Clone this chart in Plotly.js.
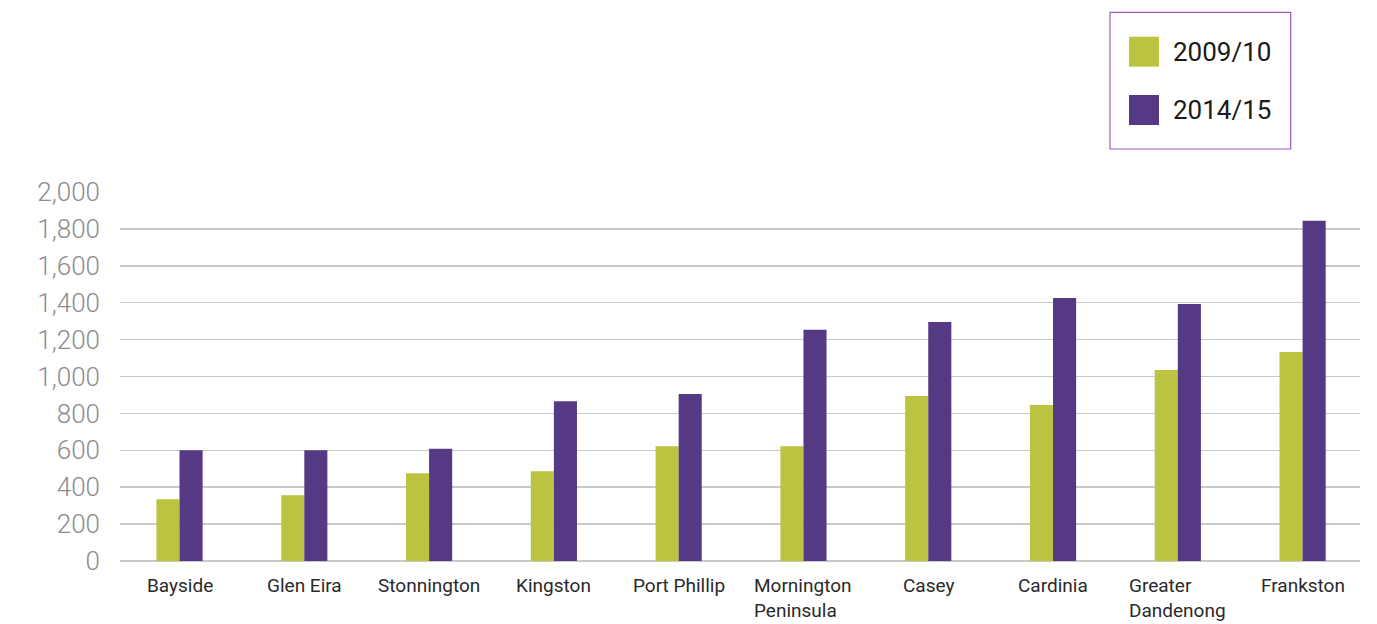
<!DOCTYPE html>
<html>
<head>
<meta charset="utf-8">
<script src="https://cdn.plot.ly/plotly-3.0.1.min.js"></script>
<style>html,body{margin:0;padding:0;background:#fff;}#chart{width:1377px;height:624px;}</style>
</head>
<body>
<div id="chart"></div>
<script>
// ---- data ----
const categories = ['Bayside','Glen Eira','Stonnington','Kingston','Port Phillip','Mornington Peninsula','Casey','Cardinia','Greater Dandenong','Frankston'];
const tickLabels = ['Bayside','Glen Eira','Stonnington','Kingston','Port Phillip','Mornington<br>Peninsula','Casey','Cardinia','Greater<br>Dandenong','Frankston'];
const seriesNames = ['2009/10','2014/15'];
const values2009 = [335, 357, 476, 487, 622, 622, 894, 845, 1035, 1133];
const values2014 = [600, 600, 608, 866, 905, 1253, 1296, 1426, 1393, 1844];
const yTicks = [0,200,400,600,800,1000,1200,1400,1600,1800,2000];

// ---- style ----
const colors = ['#bbc340', '#553984'];
const W = 1377, H = 624;
const M = {l:120, r:17, t:192, b:63, pad:0};
const px2x = p => (p - M.l) / (W - M.l - M.r);
const py2y = p => (H - M.b - p) / (H - M.t - M.b);
const FONT = 'Roboto, "DejaVu Sans", sans-serif';

const traces = [values2009, values2014].map((v, i) => ({
  type: 'bar', x: categories, y: v, name: seriesNames[i],
  marker: {color: colors[i], line: {width: 0}},
  hoverinfo: 'x+y+name'
}));

const annotations = categories.map((c, i) => ({
  x: c, xref: 'x', y: 0, yref: 'paper', yanchor: 'top', xanchor: 'center',
  yshift: -11, align: 'left', showarrow: false, text: tickLabels[i],
  font: {family: FONT, size: 19, color: '#2a2a2a'}
}));

// custom legend
const legendRows = [51.7, 110];
const shapes = [{
  type: 'rect', xref: 'paper', yref: 'paper',
  x0: px2x(1110), x1: px2x(1290.7), y0: py2y(149), y1: py2y(12.3),
  line: {color: '#9d5bbf', width: 1.2}, fillcolor: 'rgba(0,0,0,0)'
}];
seriesNames.forEach((n, i) => {
  const cy = legendRows[i];
  shapes.push({
    type: 'rect', xref: 'paper', yref: 'paper',
    x0: px2x(1129), x1: px2x(1159), y0: py2y(cy + 15), y1: py2y(cy - 15),
    line: {width: 0}, fillcolor: colors[i]
  });
  annotations.push({
    x: px2x(1171), xref: 'paper', y: py2y(cy), yref: 'paper',
    xanchor: 'left', yanchor: 'middle', showarrow: false, text: n,
    font: {family: FONT, size: 26, color: '#1a1a1a'}
  });
});

const layout = {
  width: W, height: H, margin: M,
  paper_bgcolor: '#ffffff', plot_bgcolor: '#ffffff',
  showlegend: false, barmode: 'group', bargap: 0.63, bargroupgap: 0,
  xaxis: {
    range: [-0.477, 9.46], showticklabels: false, showgrid: false,
    zeroline: false, showline: false, ticks: '', fixedrange: true
  },
  yaxis: {
    range: [0, 2000], tickvals: yTicks, tickformat: ',',
    showgrid: true, gridcolor: '#c9c9c9', gridwidth: 1.5,
    zeroline: true, zerolinecolor: '#c9c9c9', zerolinewidth: 1.5,
    showline: false, ticks: '', ticklabelstandoff: 19,
    tickfont: {family: FONT, size: 26, color: '#8c8c8c', weight: 300},
    fixedrange: true
  },
  annotations: annotations, shapes: shapes,
  font: {family: FONT}
};

Plotly.newPlot('chart', traces, layout, {displayModeBar: false, staticPlot: true});
</script>
</body>
</html>
